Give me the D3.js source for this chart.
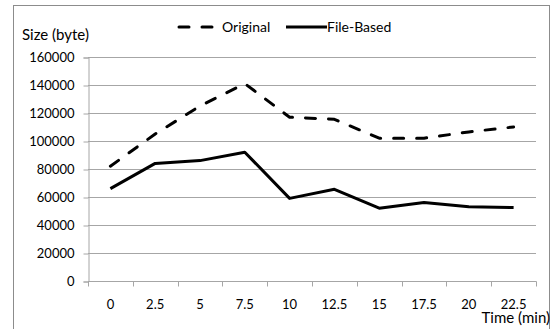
<!DOCTYPE html>
<html>
<head>
<meta charset="utf-8">
<script src="https://cdn.jsdelivr.net/npm/d3@7"></script>
<style>
  html, body { margin: 0; padding: 0; background: #fff; }
  svg { display: block; }
  text { font-family: Lato, "Open Sans", sans-serif; fill: #000; }
</style>
</head>
<body>
<svg id="chart" width="553" height="329"></svg>
<script>
// Time points (minutes) along the x axis
const categories = ["0", "2.5", "5", "7.5", "10", "12.5", "15", "17.5", "20", "22.5"];
// Size in bytes for each approach
const originalValues = [82000, 105000, 125000, 141000, 117000, 115500, 102000, 102000, 106500, 110000];
const fileBasedValues = [66000, 84000, 86000, 92000, 59000, 65500, 52000, 56000, 53000, 52500];
const yTicks = [0, 20000, 40000, 60000, 80000, 100000, 120000, 140000, 160000];
const seriesNames = ["Original", "File-Based"];

const svg = d3.select("#chart");
const plot = { left: 88, right: 536, top: 57, bottom: 281 };
const gridColor = "#a6a6a6";

// Outer chart frame
svg.append("rect")
  .attr("x", 13.5).attr("y", 5.5)
  .attr("width", 536).attr("height", 340)
  .attr("fill", "#fff").attr("stroke", "#8c8c8c").attr("stroke-width", 1);

const x = d3.scaleBand().domain(categories).range([plot.left, plot.right]).padding(0);
const y = d3.scaleLinear().domain([0, 160000]).range([plot.bottom, plot.top]);
const cx = d => x(d) + x.bandwidth() / 2;

// Horizontal gridlines
svg.append("g").selectAll("line")
  .data(yTicks.filter(v => v > 0))
  .join("line")
  .attr("x1", plot.left).attr("x2", plot.right)
  .attr("y1", d => Math.round(y(d)) + 0.5).attr("y2", d => Math.round(y(d)) + 0.5)
  .attr("stroke", gridColor).attr("stroke-width", 1);

// Y axis
const yAxis = svg.append("g")
  .attr("transform", `translate(${plot.left + 0.5},0.5)`)
  .call(d3.axisLeft(y).tickValues(yTicks).tickSize(5).tickPadding(9).tickFormat(d3.format("d")));
yAxis.selectAll("path, line").attr("stroke", gridColor);
yAxis.selectAll("text").attr("font-size", 13).attr("fill", "#000")
  .style("font-family", "Lato, 'Open Sans', sans-serif");

// X axis: labels centred in each band, tick marks on band boundaries
const xAxis = svg.append("g").attr("transform", `translate(0,${plot.bottom + 0.5})`);
xAxis.append("line")
  .attr("x1", plot.left).attr("x2", plot.right + 0.5)
  .attr("stroke", gridColor);
const boundaries = categories.map(c => x(c)).concat([plot.right]);
xAxis.selectAll("line.tick")
  .data(boundaries)
  .join("line").attr("class", "tick")
  .attr("x1", d => Math.round(d) + 0.5).attr("x2", d => Math.round(d) + 0.5)
  .attr("y1", 0).attr("y2", 5)
  .attr("stroke", gridColor);
xAxis.selectAll("text")
  .data(categories)
  .join("text")
  .attr("x", d => cx(d)).attr("y", 27.5)
  .attr("text-anchor", "middle").attr("font-size", 13)
  .text(d => d);

// Axis titles
svg.append("text").attr("x", 22).attr("y", 40).attr("font-size", 15).text("Size (byte)");
svg.append("text").attr("x", 550).attr("y", 323).attr("text-anchor", "end")
  .attr("font-size", 15).text("Time (min)");

// Series lines
const line = d3.line().x((d, i) => cx(categories[i])).y(d => y(d));
const dashed = "10 13";

svg.append("path")
  .datum(originalValues)
  .attr("d", line)
  .attr("fill", "none").attr("stroke", "#000").attr("stroke-width", 3)
  .attr("stroke-dasharray", dashed).attr("stroke-linecap", "round").attr("stroke-linejoin", "round");

svg.append("path")
  .datum(fileBasedValues)
  .attr("d", line)
  .attr("fill", "none").attr("stroke", "#000").attr("stroke-width", 3)
  .attr("stroke-linejoin", "round");

// Legend
const legend = svg.append("g");
legend.append("line")
  .attr("x1", 179).attr("x2", 213).attr("y1", 27).attr("y2", 27)
  .attr("stroke", "#000").attr("stroke-width", 3)
  .attr("stroke-dasharray", dashed).attr("stroke-linecap", "round");
legend.append("text").attr("x", 222).attr("y", 31.5).attr("font-size", 14).text(seriesNames[0]);
legend.append("line")
  .attr("x1", 286).attr("x2", 327).attr("y1", 27).attr("y2", 27)
  .attr("stroke", "#000").attr("stroke-width", 3);
legend.append("text").attr("x", 327).attr("y", 31.5).attr("font-size", 14).text(seriesNames[1]);
</script>
</body>
</html>
